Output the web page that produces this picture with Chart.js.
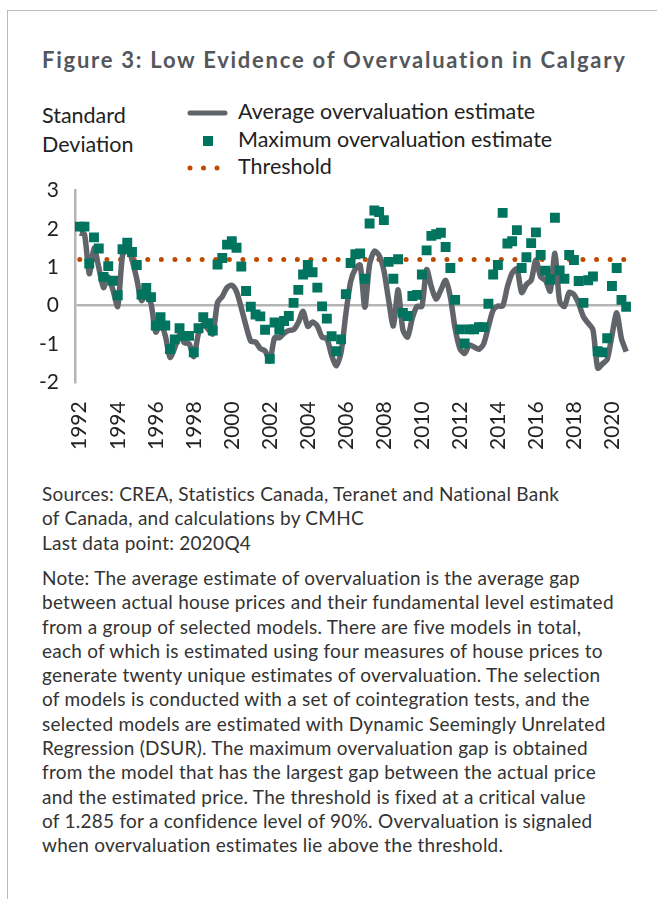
<!DOCTYPE html>
<html lang="en">
<head>
  <meta charset="UTF-8"/>
  <title>Figure 3</title>
  <script src="https://cdn.jsdelivr.net/npm/chart.js"></script>
  <style>
    html, body { margin: 0; padding: 0; background: #fff; }
    #page { position: relative; width: 657px; height: 899px; overflow: hidden; font-family: 'Lato', sans-serif; color: #222; }
    #frameTop { position: absolute; left: 7px; top: 10px; width: 650px; height: 1px; background: #bbb; }
    #frameLeft { position: absolute; left: 7px; top: 10px; width: 1px; height: 889px; background: #bbb; }
    #title { position: absolute; left: 42px; top: 46px; font-size: 22px; letter-spacing: 1.75px; font-weight: bold; color: #53575c; white-space: nowrap; }
    .unit { position: absolute; left: 42px; font-size: 21.5px; white-space: nowrap; }
    .leg { position: absolute; left: 238px; font-size: 21.5px; white-space: nowrap; }
    #chartBox { position: absolute; left: 0; top: 162px; width: 657px; height: 315px; }
    .foot { position: absolute; left: 42px; font-size: 19px; letter-spacing: 0.25px; line-height: 24.3px; color: #333; white-space: nowrap; }
  </style>
</head>
<body>
<div id="page">
  <div id="frameTop"></div>
  <div id="frameLeft"></div>
  <div id="title">Figure 3: Low Evidence of Overvaluation in Calgary</div>

  <div class="unit" style="top:102px">Standard</div>
  <div class="unit" style="top:131px">Deviation</div>

  <svg style="position:absolute;left:180px;top:100px" width="56" height="80">
    <line x1="10" y1="13" x2="45" y2="13" stroke="#616469" stroke-width="5" stroke-linecap="round"/>
    <rect x="23" y="36" width="10" height="10" fill="#00745f"/>
    <circle cx="10" cy="68" r="2.5" fill="#c04a00"/>
    <circle cx="23.5" cy="68" r="2.5" fill="#c04a00"/>
    <circle cx="37" cy="68" r="2.5" fill="#c04a00"/>
  </svg>
  <div class="leg" style="top:98px">Average overvaluation estimate</div>
  <div class="leg" style="top:126px">Maximum overvaluation estimate</div>
  <div class="leg" style="top:153px">Threshold</div>

  <div id="chartBox"><canvas id="chart"></canvas></div>

  <div class="foot" style="top:482px">Sources: CREA, Statistics Canada, Teranet and National Bank<br>of Canada, and calculations by CMHC<br>Last data point: 2020Q4</div>
  <div class="foot" style="top:566px">Note: The average estimate of overvaluation is the average gap<br>between actual house prices and their fundamental level estimated<br>from a group of selected models. There are five models in total,<br>each of which is estimated using four measures of house prices to<br>generate twenty unique estimates of overvaluation. The selection<br>of models is conducted with a set of cointegration tests, and the<br>selected models are estimated with Dynamic Seemingly Unrelated<br>Regression (DSUR). The maximum overvaluation gap is obtained<br>from the model that has the largest gap between the actual price<br>and the estimated price. The threshold is fixed at a critical value<br>of 1.285 for a confidence level of 90%. Overvaluation is signaled<br>when overvaluation estimates lie above the threshold.</div>
</div>

<script>
  // quarterly, 1992Q1 .. 2020Q4
  const yearLabels = ['1992','1994','1996','1998','2000','2002','2004','2006','2008','2010','2012','2014','2016','2018','2020'];

  const averageEstimate = [
    1.89, 1.86, 0.83, 1.50, 1.00, 0.47, 0.75, 0.40, -0.02, 1.30,
    1.53, 1.20, 0.70, 0.13, 0.30, 0.05, -0.69, -0.48, -0.78, -1.35,
    -1.10, -0.76, -0.97, -0.99, -1.33, -0.72, -0.48, -0.61, -0.74, 0.08,
    0.24, 0.47, 0.53, 0.36, -0.06, -0.53, -0.93, -0.95, -1.12, -1.18,
    -1.45, -0.84, -0.84, -0.72, -0.65, -0.63, -0.44, -0.15, -0.54, -0.43,
    -0.53, -0.82, -0.86, -1.29, -1.57, -1.22, -0.22, 0.62, 0.96, 1.06,
    -0.04, 1.08, 1.42, 1.31, 0.92, 0.15, -0.53, 0.41, -0.63, -0.82,
    -0.32, -0.02, -0.02, 0.94, 0.49, 0.17, 0.41, 0.66, 0.22, -0.60,
    -1.12, -1.25, -1.03, -1.08, -1.14, -1.00, -0.55, -0.12, -0.01, -0.01,
    0.49, 0.85, 0.96, 0.34, 0.55, 0.66, 1.19, 0.75, 0.66, 0.38,
    1.36, 0.11, -0.02, 0.34, 0.29, 0.05, -0.29, -0.46, -0.63, -1.63,
    -1.52, -1.40, -0.78, -0.19, -0.86, -1.20
  ];

  const maximumEstimate = [
    2.06, 2.06, 1.10, 1.78, 1.49, 0.75, 1.03, 0.65, 0.27, 1.47,
    1.64, 1.40, 1.06, 0.29, 0.46, 0.22, -0.52, -0.30, -0.52, -1.13,
    -0.88, -0.59, -0.79, -0.79, -1.22, -0.59, -0.30, -0.46, -0.65, 1.07,
    1.24, 1.59, 1.68, 1.51, 1.02, 0.38, -0.03, -0.23, -0.28, -0.63,
    -1.39, -0.44, -0.63, -0.40, -0.27, 0.07, 0.41, 0.81, 1.06, 0.87,
    0.47, -0.02, -0.34, -0.80, -1.19, -0.88, 0.30, 1.11, 1.34, 1.36,
    0.70, 2.14, 2.48, 2.44, 2.23, 1.14, 0.70, 1.21, -0.19, -0.27,
    0.25, 0.28, 0.81, 1.44, 1.82, 1.86, 1.90, 1.53, 0.98, 0.15,
    -0.62, -0.99, -0.62, -0.62, -0.56, -0.56, 0.05, 0.81, 1.06, 2.42,
    1.62, 1.68, 1.97, 0.98, 1.26, 1.63, 1.91, 1.32, 0.91, 0.68,
    2.29, 0.92, 0.70, 1.32, 1.19, 0.64, 0.07, 0.66, 0.76, -1.19,
    -1.22, -0.85, 0.51, 0.98, 0.15, -0.03
  ];

  const threshold = 1.2;

  const ctx = document.getElementById('chart').getContext('2d');
  const toPoints = arr => arr.map((v, i) => ({ x: i, y: v }));
  const lastIdx = averageEstimate.length - 1;

  new Chart(ctx, {
    type: 'line',
    data: {
      datasets: [
        {
          label: 'Maximum overvaluation estimate',
          type: 'scatter',
          data: toPoints(maximumEstimate),
          pointStyle: 'rect',
          pointRadius: 7,
          pointBackgroundColor: '#00745f',
          pointBorderWidth: 0,
          showLine: false,
          order: 1
        },
        {
          label: 'Average overvaluation estimate',
          data: toPoints(averageEstimate),
          borderColor: '#616469',
          borderWidth: 5.5,
          pointRadius: 0,
          tension: 0.25,
          borderJoinStyle: 'round',
          order: 2
        },
        {
          label: 'Threshold',
          data: [{ x: 0, y: threshold }, { x: lastIdx, y: threshold }],
          borderColor: '#c04a00',
          borderWidth: 5,
          borderDash: [0, 13.6],
          borderCapStyle: 'round',
          pointRadius: 0,
          order: 3
        }
      ]
    },
    options: {
      responsive: true,
      maintainAspectRatio: false,
      animation: false,
      layout: { padding: { left: 23, right: 25, top: 1, bottom: 8 } },
      plugins: { legend: { display: false }, tooltip: { enabled: false } },
      scales: {
        x: {
          type: 'linear',
          min: -1,
          max: lastIdx + 1,
          afterBuildTicks: axis => { axis.ticks = yearLabels.map((_, k) => ({ value: k * 8 })); },
          ticks: {
            autoSkip: false,
            minRotation: 90,
            maxRotation: 90,
            padding: 19,
            color: '#222',
            font: { family: 'Lato', size: 21 },
            callback: v => yearLabels[v / 8]
          },
          grid: { display: false, drawTicks: false },
          border: { display: false }
        },
        y: {
          min: -2,
          max: 3,
          ticks: {
            stepSize: 1,
            padding: 16,
            color: '#222',
            font: { family: 'Lato', size: 21 }
          },
          grid: {
            drawTicks: false,
            color: c => c.tick && c.tick.value === 0 ? '#b5b5b5' : 'rgba(0,0,0,0)',
            lineWidth: 2.5
          },
          border: { display: true, color: '#b5b5b5', width: 2.5 }
        }
      }
    }
  });
</script>
</body>
</html>
